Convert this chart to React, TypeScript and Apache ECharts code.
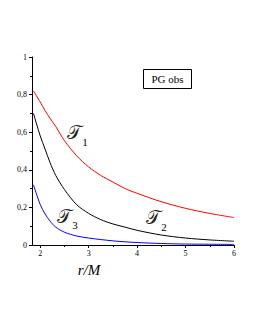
import React, { useEffect, useRef } from "react";
import * as echarts from "echarts";

const rValues = [1.86, 2.0, 2.1, 2.2, 2.32, 2.5, 2.75, 3.0, 3.25, 3.5, 3.75, 4.0, 4.5, 5.0, 5.5, 6.0];
const t1Values = [0.82, 0.76, 0.715, 0.675, 0.63, 0.555, 0.475, 0.415, 0.37, 0.335, 0.3, 0.275, 0.23, 0.195, 0.168, 0.146];
const t2Values = [0.70, 0.58, 0.51, 0.44, 0.37, 0.295, 0.215, 0.168, 0.135, 0.112, 0.095, 0.078, 0.053, 0.037, 0.027, 0.02];
const t3Values = [0.32, 0.215, 0.165, 0.128, 0.095, 0.068, 0.048, 0.037, 0.029, 0.022, 0.017, 0.013, 0.008, 0.005, 0.004, 0.003];
const xTickValues = [2, 3, 4, 5, 6];
const xMinorTickValues = [2.5, 3.5, 4.5, 5.5];

const SERIF = "'Liberation Serif', 'DejaVu Serif', serif";

export default function App() {
  const ref = useRef<HTMLDivElement>(null);
  useEffect(() => {
    if (!ref.current) return;
    const chart = echarts.init(ref.current, null, { renderer: "svg" });
    const pairs = (ys: number[]) => rValues.map((r, i) => [r, ys[i]]);
    const axisLine = { show: true, lineStyle: { color: "#000", width: 1 } };
    const line = (ys: number[], color: string) => ({
      type: "line",
      data: pairs(ys),
      smooth: 0.3,
      showSymbol: false,
      lineStyle: { color, width: 1 },
    });
    chart.setOption({
      animation: false,
      backgroundColor: "#fff",
      grid: { left: 32, right: 21, top: 57, bottom: 85 },
      xAxis: [
        {
          type: "value",
          min: 1.83,
          max: 6,
          axisLine,
          splitLine: { show: false },
          axisTick: { show: true, customValues: xTickValues, length: 3, lineStyle: { color: "#000" } },
          axisLabel: {
            customValues: xTickValues,
            fontFamily: SERIF,
            fontSize: 8,
            color: "#000",
            margin: 4,
          },
        },
        {
          type: "value",
          min: 1.83,
          max: 6,
          position: "bottom",
          axisLine: { show: false },
          splitLine: { show: false },
          axisTick: { show: true, customValues: xMinorTickValues, length: 2, lineStyle: { color: "#000" } },
          axisLabel: { show: false },
        },
      ],
      yAxis: {
        type: "value",
        min: 0,
        max: 1,
        interval: 0.2,
        axisLine,
        splitLine: { show: false },
        axisTick: { show: true, length: 3, lineStyle: { color: "#000" } },
        minorTick: { show: true, splitNumber: 2, length: 2, lineStyle: { color: "#000" } },
        axisLabel: {
          fontFamily: SERIF,
          fontSize: 8,
          color: "#000",
          margin: 5,
          formatter: (v: number) => String(Math.round(v * 10) / 10).replace(".", ","),
        },
      },
      series: [line(t1Values, "#ff0000"), line(t2Values, "#000000"), line(t3Values, "#0000ff")],
      graphic: [
        { type: "rect", shape: { x: 143.5, y: 69.5, width: 48, height: 19 }, style: { fill: "#fff", stroke: "#000", lineWidth: 1 } },
        { type: "text", x: 167.5, y: 79, style: { text: "PG obs", font: `11px ${SERIF}`, fill: "#000", align: "center", verticalAlign: "middle" } },
        { type: "text", x: 89, y: 270, style: { text: "r/M", font: `italic 15px ${SERIF}`, fill: "#000", align: "center", verticalAlign: "middle" } },
        { type: "text", x: 74, y: 132, style: { text: "𝒯", font: `19px ${SERIF}`, fill: "#222", align: "center", verticalAlign: "middle" } },
        { type: "text", x: 85, y: 142, style: { text: "1", font: `11px ${SERIF}`, fill: "#000", align: "center", verticalAlign: "middle" } },
        { type: "text", x: 64, y: 216, style: { text: "𝒯", font: `19px ${SERIF}`, fill: "#222", align: "center", verticalAlign: "middle" } },
        { type: "text", x: 75, y: 225, style: { text: "3", font: `11px ${SERIF}`, fill: "#000", align: "center", verticalAlign: "middle" } },
        { type: "text", x: 153, y: 217, style: { text: "𝒯", font: `19px ${SERIF}`, fill: "#222", align: "center", verticalAlign: "middle" } },
        { type: "text", x: 164, y: 227, style: { text: "2", font: `11px ${SERIF}`, fill: "#000", align: "center", verticalAlign: "middle" } },
      ],
    });
    return () => chart.dispose();
  }, []);
  return <div ref={ref} style={{ position: "absolute", left: 0, top: 0, width: 255, height: 330 }} />;
}
